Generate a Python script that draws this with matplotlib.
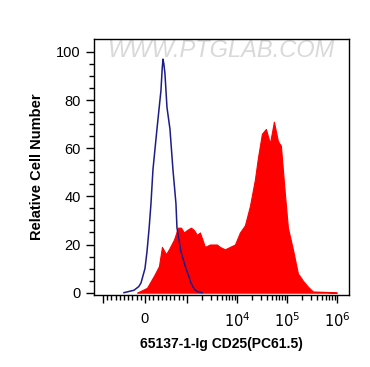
import numpy as np
import matplotlib
matplotlib.use("Agg")
import matplotlib.pyplot as plt

plt.rcParams['font.family'] = ['Liberation Sans', 'DejaVu Sans']

# isotype control (blue outline)
iso_x = [-500, -262, -150, -95, 0, 48, 100, 143, 190, 286, 381, 410, 429, 450,
         476, 524, 595, 667, 738, 762, 857, 976, 1100, 1202, 1400, 1585, 1995]
iso_y = [0, 1, 2.5, 4, 10, 17, 27, 37, 51, 68, 84, 93, 97, 95,
         91, 77, 68, 51, 37, 27, 17, 10, 6.5, 4, 1.5, 0.5, 0]

# CD25 stained sample (red filled)
cd25_x = [-190, 48, 214, 333, 405, 500, 571, 690, 786, 857, 929, 1000, 1202,
          1380, 1585, 1820, 2291, 2884, 3981, 4571, 5754, 7244, 9120, 11482,
          14454, 18197, 22909, 26303, 31623, 38019, 45709, 54954, 66069,
          75858, 91201, 104713, 131826, 165959, 208930, 263027, 331131,
          630957, 1000000]
cd25_y = [0, 2, 7, 11, 19, 16, 18, 22, 27, 27, 25, 26, 27,
          26, 24, 25, 19, 20, 20, 19, 18, 19, 20, 25,
          28, 36, 47, 56, 66, 68, 62, 71, 63,
          61, 41, 27, 18, 8, 5, 2.5, 0.5,
          0.3, 0]

xticks = [-1000, 0, 1000, 1e4, 1e5, 1e6]
xticklabels = ['', '0', '', '$10^4$', '$10^5$', '$10^6$']
yticks = [0, 20, 40, 60, 80, 100]

fig = plt.figure(figsize=(3.70, 3.67), dpi=100)
ax = fig.add_axes([0.254, 0.196, 0.689, 0.698])

ax.fill_between(cd25_x, cd25_y, 0, color='#ff0000', lw=0.8, edgecolor='#ff0000', zorder=2)
ax.plot(iso_x, iso_y, color='#1c1c8a', lw=1.1, zorder=3)

ax.set_xscale('symlog', linthresh=1000, linscale=0.756)
ax.set_xlim(-1514, 1.74e6)
ax.set_ylim(-1, 105.4)

ax.set_xticks(xticks)
ax.set_xticklabels(xticklabels)
minor = list(np.arange(-900, 1000, 100))
for dec in [1e3, 1e4, 1e5]:
    minor += [k * dec for k in range(2, 10)]
ax.set_xticks(minor, minor=True)
ax.set_yticks(yticks)
ax.set_yticks(np.arange(0, 105, 5), minor=True)

ax.tick_params(which='major', length=6, width=1, labelsize=10.5, color='black')
ax.tick_params(axis='x', which='major', pad=6)
ax.tick_params(which='minor', length=3.5, width=1)
for s in ax.spines.values():
    s.set_linewidth(1)

ax.set_ylabel('Relative Cell Number', fontsize=10.5, fontweight='bold', labelpad=9)
ax.set_xlabel('65137-1-Ig CD25(PC61.5)', fontsize=10, fontweight='bold', labelpad=5)

ax.text(0.5, 0.955, 'WWW.PTGLAB.COM', transform=ax.transAxes, ha='center', va='center',
        fontsize=17, color='#d9d9d9', style='italic', zorder=1)

fig.savefig('out.png', dpi=100)
